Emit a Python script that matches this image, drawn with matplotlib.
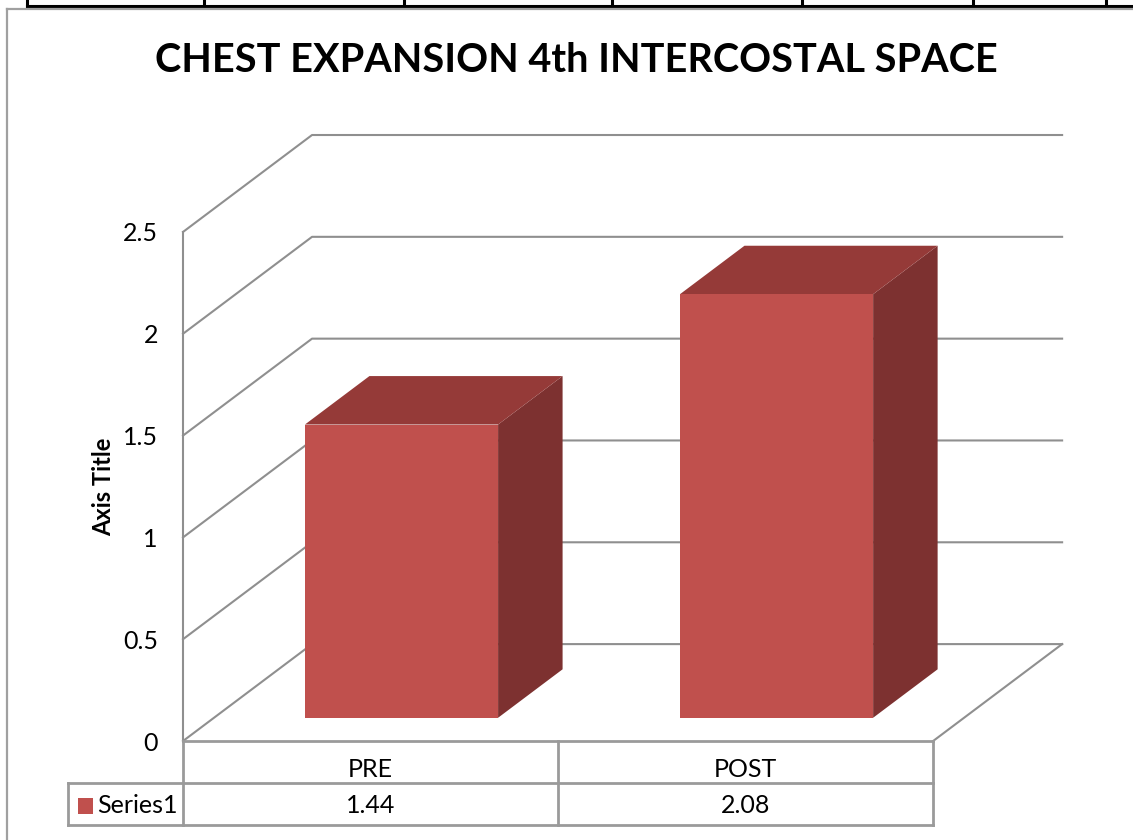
import matplotlib
matplotlib.use('Agg')
import matplotlib.pyplot as plt
from matplotlib.patches import Polygon, Rectangle
from matplotlib.lines import Line2D

# data
categories = ['PRE', 'POST']
values = [1.44, 2.08]
series_name = 'Series1'
yticks = [0, 0.5, 1, 1.5, 2, 2.5]
title = 'CHEST EXPANSION 4th INTERCOSTAL SPACE'
axis_title = 'Axis Title'

plt.rcParams['font.family'] = ['Lato', 'DejaVu Sans']

W, H = 1133, 840
fig = plt.figure(figsize=(W / 100, H / 100), dpi=100)
ax = fig.add_axes([0, 0, 1, 1])
ax.set_xlim(-0.488, 2.533)
ax.set_ylim(-0.486, 3.639)
ax.axis('off')

front_c = '#C0504D'
top_c = '#953A38'
side_c = '#7D3130'
grid_c = '#8f8f8f'
tab_c = '#9a9a9a'

dx, dy = 0.344, 0.476   # depth of the 3d box (oblique offset)
ncat = len(categories)

# walls + gridlines
for v in yticks:
    ax.plot([0, dx, ncat + dx], [v, v + dy, v + dy], color=grid_c, lw=1.5, zorder=1)
ax.plot([0, 0], [0, yticks[-1]], color=grid_c, lw=1.5, zorder=1)
ax.plot([ncat, ncat + dx], [0, dy], color=grid_c, lw=1.5, zorder=1)

# tick labels
for v in yticks:
    ax.text(-0.067, v - 0.01, f'{v:g}', ha='right', va='center', fontsize=18, color='black')
ax.text(-0.213, yticks[-1] / 2, axis_title, rotation=90, ha='center', va='center',
        fontsize=17, fontweight='bold')

# 3d bars
bw = 0.515
z0, z1 = 0.24, 0.74
ddx, ddy = (z1 - z0) * dx, (z1 - z0) * dy
for i, v in enumerate(values):
    x0 = i + (1 - bw) / 2 + z0 * dx
    x1 = x0 + bw
    b = z0 * dy
    ax.add_patch(Polygon([(x1, b), (x1 + ddx, b + ddy), (x1 + ddx, b + v + ddy), (x1, b + v)],
                         closed=True, facecolor=side_c, edgecolor='none', zorder=3))
    ax.add_patch(Polygon([(x0, b + v), (x1, b + v), (x1 + ddx, b + v + ddy), (x0 + ddx, b + v + ddy)],
                         closed=True, facecolor=top_c, edgecolor='none', zorder=3))
    ax.add_patch(Rectangle((x0, b), bw, v, facecolor=front_c, edgecolor='none', zorder=4))

# data table
r1, r2 = -0.206, -0.413
lx = -0.307
ax.plot([0, ncat], [0, 0], color=tab_c, lw=2, zorder=2)
ax.plot([lx, ncat], [r1, r1], color=tab_c, lw=2)
ax.plot([lx, ncat], [r2, r2], color=tab_c, lw=2)
ax.plot([lx, lx], [r1, r2], color=tab_c, lw=2)
for i in range(ncat + 1):
    ax.plot([i, i], [0, r2], color=tab_c, lw=2)
ty1, ty2 = -0.142, -0.319
for i, (c, v) in enumerate(zip(categories, values)):
    ax.text(i + 0.5, ty1, c, ha='center', va='center', fontsize=18)
    ax.text(i + 0.5, ty2, f'{v:g}', ha='center', va='center', fontsize=18)
ax.add_patch(Rectangle((-0.28, ty2 - 0.037), 0.04, 0.074,
                       facecolor=front_c, edgecolor='none'))
ax.text(-0.229, ty2, series_name, ha='left', va='center', fontsize=18)

fig.text(576 / W, 1 - 60 / H, title, ha='center', va='center', fontsize=28.5, fontweight='bold')


# spreadsheet background lines and chart border
def pline(xs, ys, **kw):
    fig.add_artist(Line2D([x / W for x in xs], [1 - y / H for y in ys],
                          transform=fig.transFigure, **kw))


pline([27, W], [6, 6], color='black', lw=2.2)
for x in [27, 204, 404, 612, 802, 973, 1106]:
    pline([x, x], [0, 6], color='black', lw=2.2)
pline([7, W], [9, 9], color='#a0a0a0', lw=1.6)
pline([7, 7], [9, H], color='#a0a0a0', lw=1.6)

fig.savefig('out.png', dpi=100)
